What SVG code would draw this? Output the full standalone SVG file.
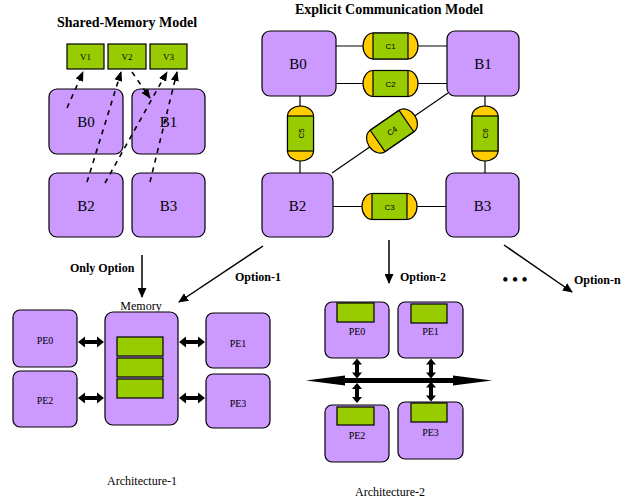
<svg xmlns="http://www.w3.org/2000/svg" xmlns:xlink="http://www.w3.org/1999/xlink" width="629" height="503" viewBox="0 0 629 503">
<style>
.blk{fill:#cc99ff;stroke:#000;stroke-width:1.2}
.grn{fill:#99cc00;stroke:#000;stroke-width:1.2}
.org{fill:#ffcc00;stroke:#000;stroke-width:1.2}
.ln{stroke:#000;stroke-width:1.2;fill:none}
.arr{stroke:#000;stroke-width:1.5;fill:none}
.dash{stroke:#000;stroke-width:1.6;fill:none;stroke-dasharray:5,5}
.title{font-family:"Liberation Serif",serif;font-weight:bold;font-size:14px;text-anchor:middle}
.opt{font-family:"Liberation Serif",serif;font-weight:bold;font-size:12px}
.bl{font-family:"Liberation Serif",serif;font-size:15px;text-anchor:middle}
.pe{font-family:"Liberation Serif",serif;font-size:10px;text-anchor:middle}
.vl{font-family:"Liberation Serif",serif;font-size:9px;text-anchor:middle}
.cl{font-family:"Liberation Sans",sans-serif;font-size:8px;text-anchor:middle}
.lab{font-family:"Liberation Serif",serif;font-size:12px;text-anchor:middle}
</style>
<defs>
<marker id="ah" markerWidth="10" markerHeight="8" refX="9" refY="4" orient="auto" markerUnits="userSpaceOnUse">
<path d="M0,0 L10,4 L0,8 Z" fill="#000"/>
</marker>
<marker id="ahd" markerWidth="10" markerHeight="9" refX="9" refY="4.5" orient="auto" markerUnits="userSpaceOnUse">
<path d="M0,0 L10,4.5 L0,9 Z" fill="#000"/>
</marker>
<g id="cap">
<rect class="org" x="-27.5" y="-13" width="55" height="26" rx="10" ry="13"/>
<rect class="grn" x="-17.5" y="-13" width="35" height="26"/>
</g>
<path id="dbl26" d="M-13,0 L-6,-5.5 L-6,-2 L6,-2 L6,-5.5 L13,0 L6,5.5 L6,2 L-6,2 L-6,5.5 Z" fill="#000"/>
<path id="dbl20" d="M-10,0 L-4,-5 L-4,-2 L4,-2 L4,-5 L10,0 L4,5 L4,2 L-4,2 L-4,5 Z" fill="#000"/>
</defs>

<!-- Titles -->
<text class="title" x="127" y="27">Shared-Memory Model</text>
<text class="title" x="389" y="14">Explicit Communication Model</text>

<!-- Shared memory model -->
<g id="sm-V1"><rect class="grn" x="67" y="44" width="37" height="25"/><text class="vl" x="85.5" y="60">V1</text></g>
<g id="sm-V2"><rect class="grn" x="108" y="44" width="38" height="25"/><text class="vl" x="127" y="60">V2</text></g>
<g id="sm-V3"><rect class="grn" x="150" y="44" width="37" height="25"/><text class="vl" x="168.5" y="60">V3</text></g>
<g id="sm-B0"><rect class="blk" x="49" y="89" width="74" height="65" rx="8"/><text class="bl" x="86" y="127">B0</text></g>
<g id="sm-B1"><rect class="blk" x="132" y="89" width="73" height="65" rx="8"/><text class="bl" x="168.5" y="127">B1</text></g>
<g id="sm-B2"><rect class="blk" x="49" y="173" width="74" height="64" rx="8"/><text class="bl" x="86" y="211">B2</text></g>
<g id="sm-B3"><rect class="blk" x="132" y="173" width="73" height="64" rx="8"/><text class="bl" x="168.5" y="211">B3</text></g>

<!-- Explicit communication model -->
<g id="connectors">
<line class="ln" x1="336" y1="46" x2="447" y2="46"/>
<line class="ln" x1="336" y1="83.5" x2="447" y2="83.5"/>
<line class="ln" x1="333" y1="206.5" x2="446" y2="206.5"/>
<line class="ln" x1="300" y1="96" x2="300" y2="173"/>
<line class="ln" x1="485" y1="96" x2="485" y2="173"/>
<line class="ln" x1="332" y1="173" x2="448" y2="93"/>
<!-- dashed access arrows -->
<line class="dash" x1="67" y1="108" x2="83" y2="72" marker-end="url(#ah)"/>
<line class="dash" x1="87" y1="182" x2="121" y2="72" marker-end="url(#ah)"/>
<line class="dash" x1="132" y1="72" x2="150" y2="98" marker-end="url(#ah)"/>
<line class="dash" x1="105" y1="183" x2="167" y2="72" marker-end="url(#ah)"/>
<line class="dash" x1="150" y1="182" x2="177" y2="72" marker-end="url(#ah)"/>
<!-- option arrows -->
<line class="arr" x1="142" y1="255" x2="142" y2="297" marker-end="url(#ahd)"/>
<line class="arr" x1="263" y1="246" x2="179" y2="302" marker-end="url(#ahd)"/>
<line class="arr" x1="389" y1="240" x2="389" y2="283" marker-end="url(#ahd)"/>
<line class="arr" x1="504" y1="245" x2="572" y2="292" marker-end="url(#ahd)"/>
<!-- architecture-1 links -->
<use xlink:href="#dbl26" x="91" y="342"/>
<use xlink:href="#dbl26" x="91" y="398"/>
<use xlink:href="#dbl26" x="192" y="342"/>
<use xlink:href="#dbl26" x="192" y="398"/>
<!-- architecture-2 bus -->
<path d="M306,380.5 L345,375.5 L345,378 L453,378 L453,375.5 L492,380.5 L453,385.5 L453,383 L345,383 L345,385.5 Z" fill="#000"/>
<use xlink:href="#dbl20" transform="translate(357,368.5) rotate(90)"/>
<use xlink:href="#dbl20" transform="translate(357,393) rotate(90)"/>
<use xlink:href="#dbl20" transform="translate(431,368.5) rotate(90)"/>
<use xlink:href="#dbl20" transform="translate(431,391.5) rotate(90)"/>
</g>

<g id="ec-B0"><rect class="blk" x="262" y="31" width="74" height="65" rx="8"/><text class="bl" x="298" y="69">B0</text></g>
<g id="ec-B1"><rect class="blk" x="447" y="31" width="72" height="65" rx="8"/><text class="bl" x="483" y="69">B1</text></g>
<g id="ec-B2"><rect class="blk" x="262" y="173" width="71" height="64" rx="8"/><text class="bl" x="297.5" y="211">B2</text></g>
<g id="ec-B3"><rect class="blk" x="446" y="173" width="73" height="64" rx="8"/><text class="bl" x="482.5" y="211">B3</text></g>

<g id="ec-C1"><use xlink:href="#cap" transform="translate(390.5,46)"/><text class="cl" x="390.5" y="49">C1</text></g>
<g id="ec-C2"><use xlink:href="#cap" transform="translate(390.5,83.5)"/><text class="cl" x="390.5" y="86.5">C2</text></g>
<g id="ec-C3"><use xlink:href="#cap" transform="translate(389.5,206.5)"/><text class="cl" x="389.5" y="209.5">C3</text></g>
<g id="ec-C5"><use xlink:href="#cap" transform="translate(300.5,133.5) rotate(90)"/><text class="cl" transform="translate(303.5,133.5) rotate(-90)">C5</text></g>
<g id="ec-C6"><use xlink:href="#cap" transform="translate(485,133.5) rotate(90)"/><text class="cl" transform="translate(488,133.5) rotate(-90)">C6</text></g>
<g id="ec-C4"><use xlink:href="#cap" transform="translate(392,131) rotate(-34.6)"/><text class="cl" transform="translate(392,131) rotate(-34.6) translate(0,3)">C4</text></g>

<!-- option labels -->
<text class="opt" x="70" y="272">Only Option</text>
<text class="opt" x="235" y="281">Option-1</text>
<text class="opt" x="400" y="281">Option-2</text>
<text class="opt" x="574" y="284">Option-n</text>
<text x="515" y="285" style="font-family:'Liberation Serif',serif;font-size:16px;font-weight:bold;text-anchor:middle">• • •</text>

<!-- Architecture-1 -->
<text class="lab" x="141" y="310">Memory</text>
<g id="a1-PE0"><rect class="blk" x="13" y="310" width="64" height="57" rx="7"/><text class="pe" x="45" y="344">PE0</text></g>
<g id="a1-PE2"><rect class="blk" x="13" y="371" width="64" height="56" rx="7"/><text class="pe" x="45" y="404">PE2</text></g>
<g id="a1-PE1"><rect class="blk" x="206" y="313" width="64" height="55" rx="7"/><text class="pe" x="238" y="347">PE1</text></g>
<g id="a1-PE3"><rect class="blk" x="206" y="374" width="64" height="54" rx="7"/><text class="pe" x="238" y="407">PE3</text></g>
<g id="a1-Memory">
<rect class="blk" x="105" y="312" width="73" height="113" rx="8"/>
<rect class="grn" x="117" y="337" width="46" height="19"/>
<rect class="grn" x="117" y="358" width="46" height="19"/>
<rect class="grn" x="117" y="379" width="46" height="19"/>
</g>
<text class="lab" x="142" y="485">Architecture-1</text>

<!-- Architecture-2 -->
<g id="a2-PE0"><rect class="blk" x="325" y="302" width="64" height="56" rx="7"/><rect class="grn" x="337" y="303" width="37" height="19"/><text class="pe" x="357" y="335">PE0</text></g>
<g id="a2-PE1"><rect class="blk" x="398" y="302" width="65" height="56" rx="7"/><rect class="grn" x="411" y="304" width="36" height="19"/><text class="pe" x="430.5" y="335">PE1</text></g>
<g id="a2-PE2"><rect class="blk" x="325" y="405" width="64" height="57" rx="7"/><rect class="grn" x="337" y="407" width="37" height="18"/><text class="pe" x="357" y="439">PE2</text></g>
<g id="a2-PE3"><rect class="blk" x="398" y="402" width="65" height="57" rx="7"/><rect class="grn" x="411" y="403" width="36" height="19"/><text class="pe" x="430.5" y="436">PE3</text></g>
<text class="lab" x="390" y="496">Architecture-2</text>
</svg>
